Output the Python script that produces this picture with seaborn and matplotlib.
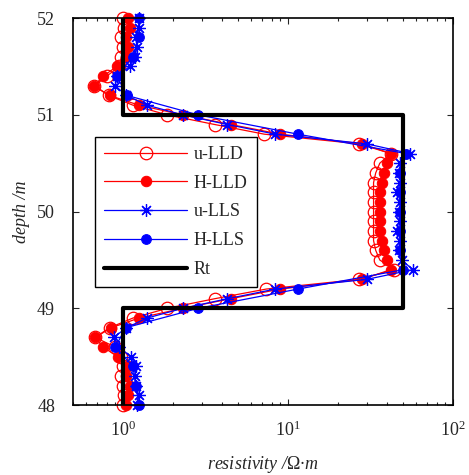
import numpy as np
import pandas as pd
import matplotlib
matplotlib.use("Agg")
import matplotlib.pyplot as plt
import seaborn as sns
from matplotlib.ticker import LogLocator, LogFormatterSciNotation, NullFormatter

# depth grid (m)
depth = [round(48 + 0.1 * i, 1) for i in range(41)]
depth_hlls = [round(48 + 0.2 * i, 1) for i in range(21)]

# resistivity readings (ohm.m)
u_lld = [1.00, 1.02, 1.00, 0.98, 1.00, 0.97, 0.90, 0.68, 0.83, 1.15,
         1.85, 3.6, 7.4, 27, 44, 36, 34, 33, 33, 33,
         33, 33, 33, 33, 34, 36, 42, 27, 7.2, 3.6,
         1.85, 1.15, 0.82, 0.67, 0.80, 0.95, 0.98, 1.00, 0.98, 1.02, 1.00]
h_lld = [1.05, 1.08, 1.10, 1.05, 1.08, 0.93, 0.76, 0.68, 0.85, 1.25,
         2.3, 4.5, 9.0, 28, 42, 40, 38, 37, 36, 36,
         36, 36, 36, 37, 38, 40, 42, 28, 9.0, 4.5,
         2.3, 1.25, 0.83, 0.67, 0.76, 0.92, 1.05, 1.08, 1.05, 1.10, 1.08]
u_lls = [1.22, 1.25, 1.20, 1.18, 1.20, 1.12, 0.95, 0.88, 1.05, 1.40,
         2.3, 4.3, 8.4, 30, 57, 49, 47, 48, 46, 48,
         47, 48, 46, 48, 47, 48, 55, 30, 8.4, 4.3,
         2.3, 1.40, 1.05, 0.90, 0.92, 1.10, 1.18, 1.22, 1.20, 1.25, 1.25]
h_lls = [1.25, 1.20, 1.15, 0.90, 1.04, 2.85, 11.5, 50, 48, 48,
         48, 48, 48, 52, 11.5, 2.85, 1.06, 0.92, 1.15, 1.25, 1.25]

# true formation resistivity (step model)
rt_depth = [48, 49, 49, 51, 51, 52]
rt_value = [1, 1, 50, 50, 1, 1]

sns.set_style("ticks")
plt.rcParams['font.family'] = ['Liberation Serif', 'DejaVu Serif']
plt.rcParams['mathtext.fontset'] = 'custom'
plt.rcParams['mathtext.rm'] = 'Liberation Serif'
plt.rcParams['mathtext.it'] = 'Liberation Serif:italic'
plt.rcParams['mathtext.default'] = 'regular'

fig = plt.figure(figsize=(4.69, 4.75), dpi=100)
ax = fig.add_axes([0.156, 0.147, 0.81, 0.815])

series = [
    ("u-LLD", u_lld, depth, dict(color="red", marker="o", markersize=9, markerfacecolor="none",
                                  markeredgecolor="red", markeredgewidth=0.9)),
    ("H-LLD", h_lld, depth, dict(color="red", marker="o", markersize=7.5, markerfacecolor="red",
                                  markeredgecolor="red")),
    ("u-LLS", u_lls, depth, dict(color="blue", marker=(8, 2, 0), markersize=9, markeredgecolor="blue",
                                  markeredgewidth=0.9)),
    ("H-LLS", h_lls, depth_hlls, dict(color="blue", marker="o", markersize=7, markerfacecolor="blue",
                                       markeredgecolor="blue")),
]
for name, vals, d, style in series:
    df = pd.DataFrame({"res": vals, "depth": d})
    sns.lineplot(data=df, x="res", y="depth", sort=False, estimator=None, ax=ax,
                 linewidth=0.9, label=name, clip_on=False, **style)

rt_df = pd.DataFrame({"res": rt_value, "depth": rt_depth})
sns.lineplot(data=rt_df, x="res", y="depth", sort=False, estimator=None, ax=ax,
             color="black", linewidth=3, label="Rt")

ax.set_xscale("log")
ax.set_xlim(0.5, 100)
ax.set_ylim(48, 52)
ax.set_yticks([48, 49, 50, 51, 52])
ax.xaxis.set_major_locator(LogLocator(base=10))
ax.xaxis.set_major_formatter(LogFormatterSciNotation())
ax.xaxis.set_minor_locator(LogLocator(base=10, subs=np.arange(2, 10)))
ax.xaxis.set_minor_formatter(NullFormatter())
ax.tick_params(which="both", direction="in", top=True, right=True, labelsize=13, width=0.8)
ax.tick_params(which="major", length=4)
ax.tick_params(which="minor", length=2.5)
ax.tick_params(axis="x", which="major", pad=11)
ax.tick_params(axis="y", which="major", pad=13)
for sp in ax.spines.values():
    sp.set_linewidth(1.2)
    sp.set_color("black")

ax.set_xlabel("resistivity /$\\mathit{\\Omega}$·m", fontsize=13, style="italic", labelpad=10)
ax.set_ylabel("depth /m", fontsize=13, style="italic", labelpad=5)

leg = ax.legend(loc="upper left", bbox_to_anchor=(0.058, 0.693), fontsize=13, handlelength=4.6,
                frameon=True, fancybox=False, edgecolor="black", framealpha=1,
                borderaxespad=0, borderpad=0.5, labelspacing=0.65, handletextpad=0.35)
leg.get_frame().set_linewidth(1.0)

fig.savefig("out.png", dpi=100)
